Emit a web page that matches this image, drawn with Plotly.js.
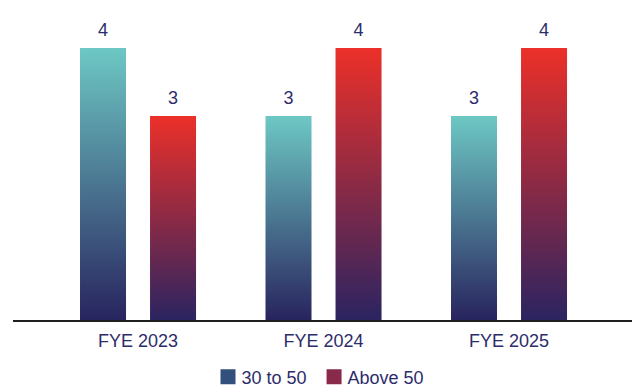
<!DOCTYPE html>
<html>
<head>
<meta charset="utf-8">
<script src="https://cdn.plot.ly/plotly-3.0.1.min.js"></script>
<style>html,body{margin:0;padding:0;background:#fff;}</style>
</head>
<body>
<div id="chart" style="width:632px;height:387px;"></div>
<script>
const categories = ["FYE 2023", "FYE 2024", "FYE 2025"];
const series1Name = "30 to 50";
const series1Values = [4, 3, 3];
const series2Name = "Above 50";
const series2Values = [3, 4, 4];

const textColor = "#2d2c6b";
const font = {family: "Liberation Sans, Arial, sans-serif", size: 18, color: textColor};

const traces = [
  {
    type: "bar", name: series1Name, x: categories, y: series1Values,
    marker: {color: "#33507c"},
    text: series1Values.map(String), textposition: "outside", cliponaxis: false,
    textfont: font, hoverinfo: "skip"
  },
  {
    type: "bar", name: series2Name, x: categories, y: series2Values,
    marker: {color: "#8a2a4b"},
    text: series2Values.map(String), textposition: "outside", cliponaxis: false,
    textfont: font, hoverinfo: "skip"
  }
];

const layout = {
  width: 632, height: 387,
  margin: {l: 13, r: 0, t: 14, b: 67, autoexpand: false},
  paper_bgcolor: "#ffffff", plot_bgcolor: "#ffffff",
  font: font,
  barmode: "group", bargap: 0.245, bargroupgap: 0.343,
  xaxis: {
    type: "category", range: [-0.674, 2.663], automargin: false,
    showline: true, linecolor: "#1e1e1e", linewidth: 2,
    showgrid: false, zeroline: false, ticks: "", ticklabelstandoff: 3,
    tickfont: font, fixedrange: true
  },
  yaxis: {
    range: [0, 4.5], visible: false, showgrid: false, zeroline: false, fixedrange: true
  },
  showlegend: true,
  legend: {
    orientation: "h", x: 0.5, xanchor: "center", y: -0.126, yanchor: "top",
    font: font, itemclick: false, itemdoubleclick: false, tracegroupgap: 0
  }
};

Plotly.newPlot("chart", traces, layout, {staticPlot: true, displayModeBar: false}).then(function (gd) {
  const svg = gd.querySelector("svg.main-svg");
  const ns = "http://www.w3.org/2000/svg";
  let defs = svg.querySelector("defs");
  if (!defs) { defs = document.createElementNS(ns, "defs"); svg.insertBefore(defs, svg.firstChild); }
  const grads = [["gTeal", "#6dc8c4", "#28245e"], ["gRed", "#ec3029", "#2b2461"]];
  grads.forEach(function (g) {
    const lg = document.createElementNS(ns, "linearGradient");
    lg.setAttribute("id", g[0]);
    lg.setAttribute("x1", "0"); lg.setAttribute("y1", "0");
    lg.setAttribute("x2", "0"); lg.setAttribute("y2", "1");
    [[0, g[1]], [1, g[2]]].forEach(function (s) {
      const st = document.createElementNS(ns, "stop");
      st.setAttribute("offset", s[0]);
      st.setAttribute("stop-color", s[1]);
      lg.appendChild(st);
    });
    defs.appendChild(lg);
  });
  const barTraces = gd.querySelectorAll(".barlayer .trace.bars");
  barTraces.forEach(function (tr, i) {
    tr.querySelectorAll("g.point > path").forEach(function (p) {
      p.style.fill = "url(#" + grads[i][0] + ")";
    });
    tr.querySelectorAll("text.bartext").forEach(function (t) {
      const tf = t.getAttribute("transform") || "";
      t.setAttribute("transform", "translate(0,-5) " + tf);
    });
  });
  gd.querySelectorAll(".legend .legendpoints path").forEach(function (p) {
    p.setAttribute("d", "M14,7.5H-1V-7.5H14Z");
  });
  const leg = gd.querySelector("g.legend");
  if (leg) {
    leg.setAttribute("transform", "translate(-5,0) " + (leg.getAttribute("transform") || ""));
    const items = leg.querySelectorAll("g.traces");
    if (items.length > 1) {
      const it = items[1];
      it.setAttribute("transform", "translate(-4,0) " + (it.getAttribute("transform") || ""));
    }
  }
});
</script>
</body>
</html>
